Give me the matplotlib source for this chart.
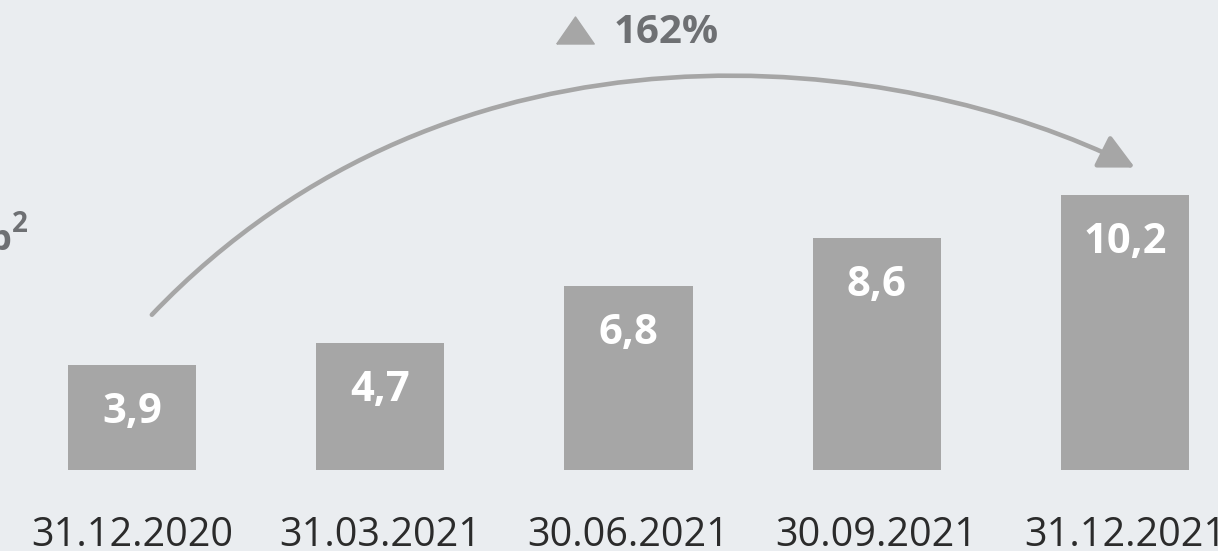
import numpy as np
import matplotlib.pyplot as plt
from matplotlib.path import Path
from matplotlib.patches import FancyArrowPatch

categories = ['31.12.2020', '31.03.2021', '30.06.2021', '30.09.2021', '31.12.2021']
values = [3.9, 4.7, 6.8, 8.6, 10.2]
value_labels = ['3,9', '4,7', '6,8', '8,6', '10,2']
growth_label = '162%'

bg = '#EAEDF0'
bar_color = '#A6A6A6'
dark = '#6E7073'

W, H = 1218, 551
fig = plt.figure(figsize=(W / 100, H / 100), dpi=100, facecolor=bg)
ax = fig.add_axes([0, 0, 1, 1])
ax.set_facecolor(bg)

# px -> data: x center of first bar at 132px, 248.25 px per bar; baseline at 470px, 27 px per unit
ax.set_xlim(-132 / 248.25, (W - 132) / 248.25)
ax.set_ylim(-(H - 470) / 27, 470 / 27)
ax.axis('off')

x = np.arange(len(values))
ax.bar(x, values, width=0.516, color=bar_color, zorder=2)

for xi, v, lab in zip(x, values, value_labels):
    ax.text(xi, v - 2.15, lab, ha='center', va='baseline', color='white',
            fontsize=30, fontweight='bold', family='Open Sans', zorder=3)

for xi, cat in zip(x, categories):
    ax.text(xi, -2.8, cat, ha='center', va='baseline', color='#2B2B2B',
            fontsize=28.5, family='Open Sans')

# curved growth arrow from first to last bar
p0 = (0.08, values[0] + 1.85)
p3 = (4.04, values[-1] + 1.0)
p1 = (1.30, 17.5)
p2 = (3.094, 15.56)
curve = Path([p0, p1, p2, p3], [Path.MOVETO, Path.CURVE4, Path.CURVE4, Path.CURVE4])
arrow = FancyArrowPatch(path=curve, arrowstyle='-|>,head_length=0.4,head_width=0.2',
                        mutation_scale=54, color=bar_color, lw=3.3,
                        capstyle='round', zorder=4)
ax.add_patch(arrow)

# growth label with triangle
tri = [(-1, -0.72), (1, -0.72), (0, 0.72), (-1, -0.72)]
fig.lines.append(plt.Line2D([575 / W], [1 - 30 / H], marker=tri, markersize=27,
                            color=bar_color, linestyle='none',
                            transform=fig.transFigure, figure=fig))
fig.text(614 / W, 1 - 43 / H, growth_label, ha='left', va='baseline', color=dark,
         fontsize=29, fontweight='bold', family='Open Sans')

# cut-off unit label at the left edge
fig.text(11 / W, 1 - 250 / H, 'b', ha='right', va='baseline', color=dark,
         fontsize=26, fontweight='bold', family='Open Sans')
fig.text(12 / W, 1 - 232 / H, '2', ha='left', va='baseline', color=dark,
         fontsize=20, fontweight='bold', family='Open Sans')

fig.savefig('out.png', dpi=100, facecolor=bg)
